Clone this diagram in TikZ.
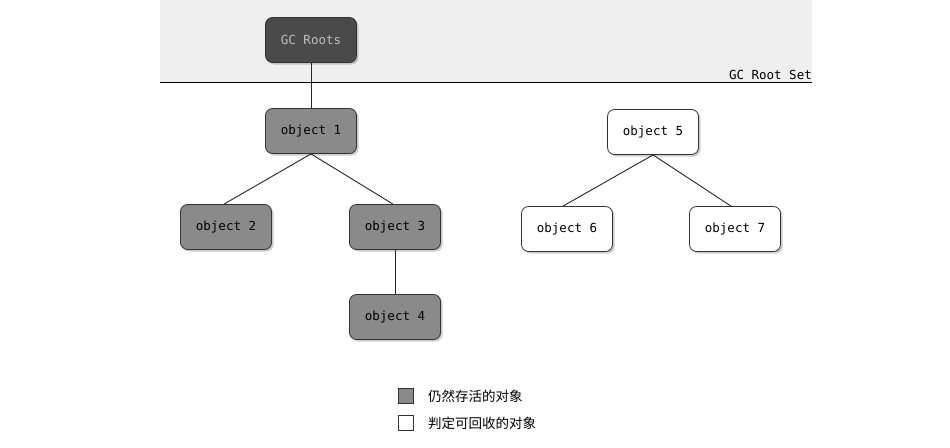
\documentclass[tikz,border=0pt]{standalone}
\usepackage{fontspec}
\setmonofont{DejaVu Sans Mono}
\newfontfamily\cjk{Noto Sans CJK SC}
\usetikzlibrary{shadows}
\definecolor{live}{HTML}{8A8A8A}
\definecolor{rootc}{HTML}{4A4A4A}
\definecolor{band}{HTML}{EFEFEF}
\tikzset{
  obj/.style={draw=black!80, line width=0.8pt, rounded corners=7pt, minimum width=91pt, minimum height=45pt,
     font=\ttfamily\fontsize{12.5}{14}\selectfont, drop shadow={shadow xshift=2pt, shadow yshift=-2pt, opacity=0.4}},
  liveobj/.style={obj, fill=live},
  deadobj/.style={obj, fill=white},
  rootobj/.style={obj, fill=rootc, text=black!25},
  conn/.style={draw=black!85, line width=0.9pt},
  legbox/.style={draw=black!80, line width=0.7pt, minimum width=15pt, minimum height=15pt, inner sep=0pt},
  legtxt/.style={anchor=west, font=\cjk\fontsize{13.5}{15}\selectfont, inner sep=0pt}
}
\begin{document}
\begin{tikzpicture}[x=1pt,y=-1pt]
\useasboundingbox (0,0) rectangle (950,447);
\fill[white] (0,0) rectangle (950,447);
\fill[band] (160,0) rectangle (812,82);
\draw[line width=1pt] (160,82) -- (812,82);
\node[anchor=south east, font=\ttfamily\fontsize{12.5}{14}\selectfont, inner sep=0pt] (setlbl) at (812,80) {GC Root Set};

\node[rootobj] (roots) at (311,40) {GC Roots};
\node[liveobj] (o1) at (311,131) {object 1};
\node[liveobj] (o2) at (226,227) {object 2};
\node[liveobj] (o3) at (395,227) {object 3};
\node[liveobj] (o4) at (395,317) {object 4};
\node[deadobj] (o5) at (653,132) {object 5};
\node[deadobj] (o6) at (567,229) {object 6};
\node[deadobj] (o7) at (735,229) {object 7};

\draw[conn] (roots.south) -- (o1.north);
\draw[conn] (o1.south) -- ([xshift=-2pt]o2.north);
\draw[conn] (o1.south) -- ([xshift=-2pt]o3.north);
\draw[conn] (o3.south) -- (o4.north);
\draw[conn] (o5.south) -- ([xshift=-4pt]o6.north);
\draw[conn] (o5.south) -- ([xshift=-4pt]o7.north);

\node[legbox, fill=live] (lg1) at (406,396) {};
\node[legbox, fill=white] (lg2) at (406,423) {};
\node[legtxt] (lt1) at (428,396) {仍然存活的对象};
\node[legtxt] (lt2) at (428,423) {判定可回收的对象};
\end{tikzpicture}
\end{document}
